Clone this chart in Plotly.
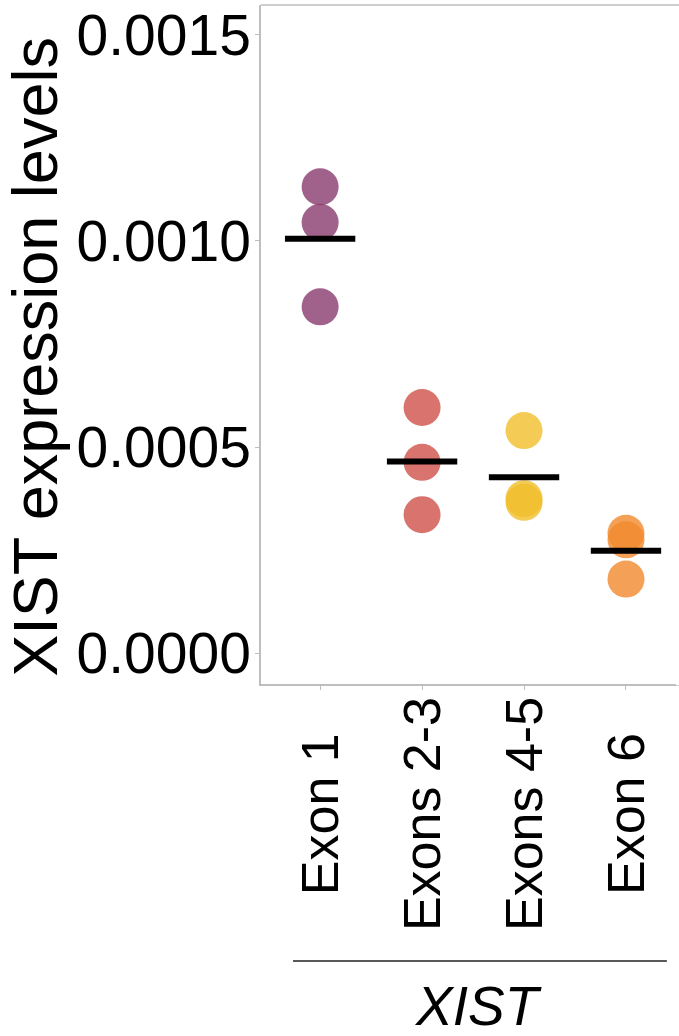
import numpy as np
import plotly.graph_objects as go

# Expression values per XIST region (three replicates each)
categories = ["Exon 1", "Exons 2-3", "Exons 4-5", "Exon 6"]
exon_1 = [0.001131, 0.001045, 0.000840]
exons_2_3 = [0.000596, 0.000463, 0.000336]
exons_4_5 = [0.000540, 0.000375, 0.000366]
exon_6 = [0.000291, 0.000275, 0.000180]
series = [exon_1, exons_2_3, exons_4_5, exon_6]
colors = ["#883B6D", "#CF5048", "#F0BE2A", "#F1892D"]
y_ticks = [0.0, 0.0005, 0.0010, 0.0015]
y_ticktext = ["0.0000", "0.0005", "0.0010", "0.0015"]

FONT = "Liberation Sans, Arial, sans-serif"
AXIS_GREY = "#BEBEBE"

fig = go.Figure()

# replicate points
for i, (name, vals, col) in enumerate(zip(categories, series, colors)):
    fig.add_trace(go.Scatter(
        x=[i] * len(vals), y=vals, mode="markers",
        marker=dict(size=37, color=col, opacity=0.8, line=dict(width=0)),
        showlegend=False, hoverinfo="y", name=name,
    ))

# mean bars
half = 0.345
for i, vals in enumerate(series):
    m = float(np.mean(vals))
    fig.add_trace(go.Scatter(
        x=[i - half, i + half], y=[m, m], mode="lines",
        line=dict(color="black", width=6),
        showlegend=False, hoverinfo="skip",
    ))

fig.update_xaxes(
    range=[-0.58, 3.52], tickvals=list(range(len(categories))),
    showticklabels=False, ticks="outside", ticklen=4, tickcolor=AXIS_GREY,
    showline=True, linecolor=AXIS_GREY, linewidth=1.5,
    showgrid=False, zeroline=False,
)
fig.update_yaxes(
    range=[-0.0000745, 0.001572], tickvals=y_ticks, ticktext=y_ticktext,
    ticks="outside", ticklen=4, tickcolor=AXIS_GREY,
    ticklabelstandoff=-7,
    tickfont=dict(family=FONT, size=57, color="black"),
    showline=True, linecolor=AXIS_GREY, linewidth=1.5,
    showgrid=False, zeroline=False,
)

annotations = []
# category labels, rotated and centred vertically under each column
for i, name in enumerate(categories):
    annotations.append(dict(
        x=i, xref="x", y=-0.1915, yref="paper", text=name, textangle=-90,
        showarrow=False, xanchor="center", yanchor="middle",
        font=dict(family=FONT, size=52, color="black"),
    ))
# y-axis title
annotations.append(dict(
    x=-0.5407, xref="paper", y=0.482, yref="paper",
    text="XIST expression levels", textangle=-90, showarrow=False,
    xanchor="center", yanchor="middle",
    font=dict(family=FONT, size=63, color="black"),
))
# gene group label under the bracket
annotations.append(dict(
    x=0.519, xref="paper", y=-0.474, yref="paper", text="<i>XIST</i>",
    showarrow=False, xanchor="center", yanchor="middle",
    font=dict(family=FONT, size=55, color="black"),
))

shapes = [
    # top border of the panel
    dict(type="line", xref="paper", yref="paper", x0=0, x1=1, y0=1, y1=1,
         line=dict(color=AXIS_GREY, width=1.5)),
    # keep the right-hand side of the panel open
    dict(type="line", xref="paper", yref="paper", x0=1, x1=1, y0=-0.002,
         y1=0.995, layer="above", line=dict(color="white", width=6)),
    # group bracket line
    dict(type="line", xref="paper", yref="paper", x0=0.0766, x1=0.971,
         y0=-0.408, y1=-0.408, line=dict(color="#222222", width=1.5)),
]

fig.update_layout(
    width=679, height=1036,
    margin=dict(l=261, r=0, t=5, b=352),
    paper_bgcolor="white", plot_bgcolor="white",
    annotations=annotations, shapes=shapes,
    font=dict(family=FONT, color="black"),
)

fig.write_html("out.html")
